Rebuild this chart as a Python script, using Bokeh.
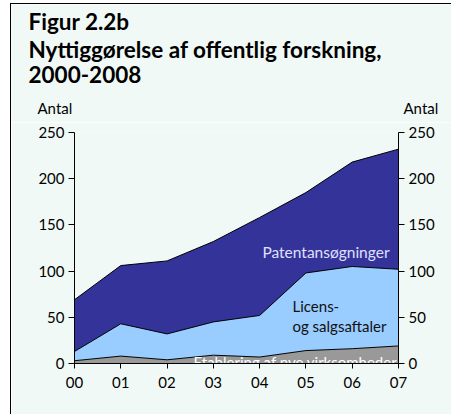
from bokeh.plotting import figure
from bokeh.layouts import column
from bokeh.models import ColumnDataSource, LinearAxis, Range1d, FixedTicker
from bokeh.core.properties import value
from bokeh.embed import file_html
from bokeh.resources import INLINE

years = [0, 1, 2, 3, 4, 5, 6, 7]
year_labels = ["00", "01", "02", "03", "04", "05", "06", "07"]
etablering = [3, 8, 4, 9, 7, 14, 16, 19]
licens = [10, 35, 28, 36, 45, 84, 89, 83]
patent = [56, 63, 79, 87, 106, 87, 113, 130]
y_ticks = [0, 50, 100, 150, 200, 250]

BG = "#f1f9f6"
FONT = "Lato"
W, H = 451, 414
OX, OY = 11, 4          # page offset of the content (inside the frame rules)
SPLIT = 122             # page y where the title strip ends and the chart begins
FL, FR, FT, FB = 74, 398, 132, 363   # chart frame edges in page pixels
CW = W - OX

# ---- title strip -------------------------------------------------------
top = figure(width=CW, height=SPLIT - OY, output_backend="svg", toolbar_location=None,
             x_range=Range1d(OX, W), y_range=Range1d(SPLIT, OY),
             x_axis_type=None, y_axis_type=None, min_border=0)
top.frame_align = False
top.background_fill_color = BG
top.border_fill_color = BG
top.outline_line_color = None
top.grid.visible = False

top.text(x=[28, 28, 28], y=[21, 49, 74],
         text=["Figur 2.2b", "Nyttiggørelse af offentlig forskning,", "2000-2008"],
         text_font=value(FONT), text_font_size="22.5px", text_font_style="bold",
         text_color="black", text_baseline="alphabetic")
top.text(x=[37, 403], y=[107, 107], text=["Antal", "Antal"],
         text_font=value(FONT), text_font_size="15px",
         text_color="black", text_baseline="alphabetic")

# ---- chart -------------------------------------------------------------
src = ColumnDataSource(dict(x=years, etablering=etablering, licens=licens, patent=patent))

p = figure(width=CW, height=H - SPLIT, output_backend="svg", toolbar_location=None,
           x_range=Range1d(0, 7), y_range=Range1d(0, 250),
           min_border_left=FL - OX, min_border_right=W - FR,
           min_border_top=FT - SPLIT, min_border_bottom=H - FB)
p.frame_align = False
p.background_fill_color = BG
p.border_fill_color = BG
p.outline_line_color = None
p.grid.visible = False

p.varea_stack(["etablering", "licens", "patent"], x="x", source=src,
              color=["#999999", "#99ccff", "#333399"])

c1 = [a for a in etablering]
c2 = [a + b for a, b in zip(etablering, licens)]
c3 = [a + b + c for a, b, c in zip(etablering, licens, patent)]
for t in (c1, c2, c3):
    p.line(years, t, line_color="black", line_width=1)

def style_axis(ax):
    ax.ticker = FixedTicker(ticks=y_ticks)
    ax.axis_line_color = "black"
    ax.major_tick_line_color = "black"
    ax.major_tick_out = 6
    ax.major_tick_in = 0
    ax.minor_tick_line_color = None
    ax.major_label_text_font = FONT
    ax.major_label_text_font_size = "15px"
    ax.major_label_text_color = "black"
    ax.major_label_standoff = 4

style_axis(p.yaxis[0])
ra = LinearAxis()
style_axis(ra)
p.add_layout(ra, "right")

xa = p.xaxis[0]
xa.ticker = FixedTicker(ticks=years)
xa.major_label_overrides = {y: l for y, l in zip(years, year_labels)}
xa.axis_line_color = "black"
xa.major_tick_line_color = "black"
xa.major_tick_out = 5
xa.major_tick_in = 0
xa.minor_tick_line_color = None
xa.major_label_text_font = FONT
xa.major_label_text_font_size = "15px"
xa.major_label_text_color = "black"
xa.major_label_standoff = 8

p.text(x=[4.06], y=[121.2], text=["Patentansøgninger"], text_font=value(FONT),
       text_font_size="15.5px", text_color="#e0e0ff", text_baseline="alphabetic")
p.text(x=[4.71, 4.71], y=[61.7, 41.1], text=["Licens-", "og salgsaftaler"], text_font=value(FONT),
       text_font_size="15px", text_color="#111111", text_baseline="alphabetic")
p.text(x=[2.57], y=[1.5], text=["Etablering af nye virksomheder"], text_font=value(FONT),
       text_font_size="15px", text_color="white", text_baseline="alphabetic")

layout = column(top, p, spacing=0,
                styles={"margin-left": f"{OX - 1}px", "margin-top": f"{OY - 1}px",
                        "border-left": "1px solid black", "border-top": "1px solid black"})

open("out.html", "w").write(file_html(layout, INLINE))
